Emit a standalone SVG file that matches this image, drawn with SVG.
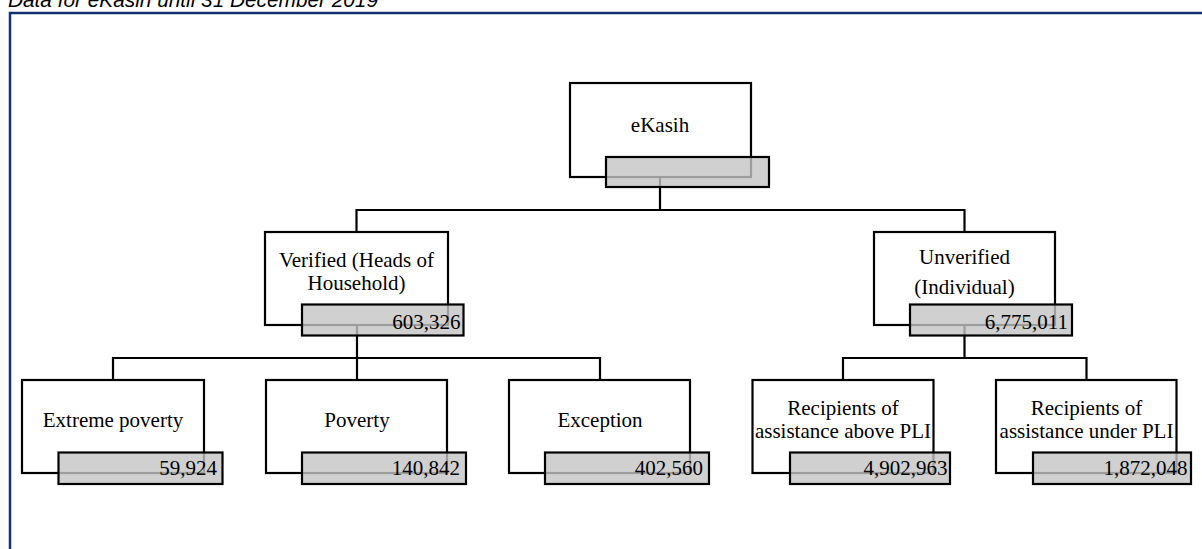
<svg xmlns="http://www.w3.org/2000/svg" width="1202" height="549" viewBox="0 0 1202 549">
<style>
.box{fill:#ffffff;stroke:#000000;stroke-width:2.2}
.val{fill:#c4c4c4;fill-opacity:0.8;stroke:#000000;stroke-width:2.2}
.conn{fill:none;stroke:#000000;stroke-width:2.2}
.lbl{font-family:"Liberation Serif","Times New Roman",serif;font-size:21px;fill:#000000;text-anchor:middle}
.num{font-family:"Liberation Serif","Times New Roman",serif;font-size:21px;fill:#000000;text-anchor:end}
.title{font-family:"Liberation Sans",Arial,sans-serif;font-style:italic;font-size:20.5px;fill:#000000}
</style>
<rect x="0" y="0" width="1202" height="549" fill="#ffffff"/>
<text class="title" x="8" y="7" textLength="370" lengthAdjust="spacingAndGlyphs">Data for eKasih until 31 December 2019</text>
<rect x="10" y="13" width="1200" height="545" fill="none" stroke="#14306e" stroke-width="2.5"/>

<g id="connectors">
<path class="conn" d="M660,177 V210 M356.5,210 H965 M356.5,209 V232 M964.5,209 V232"/>
<path class="conn" d="M357,325 V358 M113,358 H600 M113,357 V381 M357,357 V381 M600,357 V381"/>
<path class="conn" d="M964.5,325 V358 M843,358 H1086.5 M843,357 V381 M1086.5,357 V381"/>
</g>

<g id="node-ekasih">
<rect class="box" x="570" y="83" width="181" height="94"/>
<text class="lbl" x="660" y="131.5">eKasih</text>
<rect class="val" x="606" y="157" width="163" height="30"/>
</g>

<g id="node-verified">
<rect class="box" x="265" y="232" width="183" height="93"/>
<text class="lbl" x="356.5" y="266.5">Verified (Heads of</text>
<text class="lbl" x="356.5" y="290">Household)</text>
<rect class="val" x="302" y="304.5" width="161.5" height="31"/>
<text class="num" x="460.5" y="328.5">603,326</text>
</g>

<g id="node-unverified">
<rect class="box" x="874" y="232" width="181" height="93"/>
<text class="lbl" x="964.5" y="264">Unverified</text>
<text class="lbl" x="964.5" y="294">(Individual)</text>
<rect class="val" x="910" y="304.5" width="162" height="31"/>
<text class="num" x="1068" y="328.5">6,775,011</text>
</g>

<g id="node-extreme">
<rect class="box" x="22" y="380" width="182" height="93"/>
<text class="lbl" x="113" y="427">Extreme poverty</text>
<rect class="val" x="58.5" y="452.5" width="164" height="31.5"/>
<text class="num" x="217" y="475">59,924</text>
</g>

<g id="node-poverty">
<rect class="box" x="266" y="380" width="181" height="93"/>
<text class="lbl" x="357" y="427">Poverty</text>
<rect class="val" x="302" y="452.5" width="164" height="31.5"/>
<text class="num" x="460" y="475">140,842</text>
</g>

<g id="node-exception">
<rect class="box" x="509" y="380" width="181" height="93"/>
<text class="lbl" x="600" y="427">Exception</text>
<rect class="val" x="545" y="452.5" width="164" height="31.5"/>
<text class="num" x="703" y="475">402,560</text>
</g>

<g id="node-above">
<rect class="box" x="752.5" y="380" width="181" height="93"/>
<text class="lbl" x="843" y="415">Recipients of</text>
<text class="lbl" x="843" y="438">assistance above PLI</text>
<rect class="val" x="790" y="452.5" width="160" height="31.5"/>
<text class="num" x="947.5" y="475">4,902,963</text>
</g>

<g id="node-under">
<rect class="box" x="996" y="380" width="180.5" height="93"/>
<text class="lbl" x="1086.5" y="415">Recipients of</text>
<text class="lbl" x="1086.5" y="438">assistance under PLI</text>
<rect class="val" x="1033" y="452.5" width="158" height="31.5"/>
<text class="num" x="1187.5" y="475">1,872,048</text>
</g>
</svg>
